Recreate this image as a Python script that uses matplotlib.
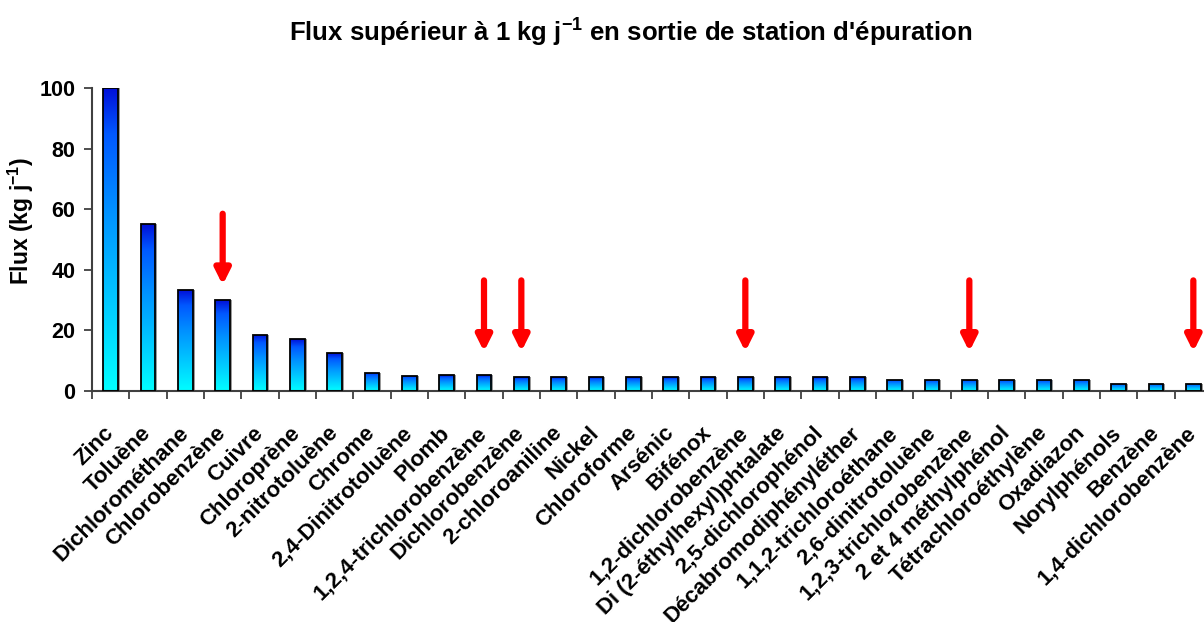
import numpy as np
import matplotlib
matplotlib.use("Agg")
import matplotlib.pyplot as plt
from matplotlib.colors import LinearSegmentedColormap

# ---------------- data ----------------
categories = [
    "Zinc", "Toluène", "Dichlorométhane", "Chlorobenzène", "Cuivre",
    "Chloroprène", "2-nitrotoluène", "Chrome", "2,4-Dinitrotoluène", "Plomb",
    "1,2,4-trichlorobenzène", "Dichlorobenzène", "2-chloroaniline", "Nickel",
    "Chloroforme", "Arsénic", "Bifénox", "1,2-dichlorobenzène",
    "Di (2-éthylhexyl)phtalate", "2,5-dichlorophénol", "Décabromodiphényléther",
    "1,1,2-trichloroéthane", "2,6-dinitrotoluène", "1,2,3-trichlorobenzène",
    "2 et 4 méthylphénol", "Tétrachloroéthylène", "Oxadiazon", "Norylphénols",
    "Benzène", "1,4-dichlorobenzène",
]
flux = [100, 55, 33.3, 30, 18.5, 17, 12.5, 6, 5.1, 5.2,
        5.2, 4.5, 4.5, 4.5, 4.5, 4.5, 4.5, 4.5, 4.5, 4.5,
        4.5, 3.7, 3.7, 3.7, 3.7, 3.7, 3.7, 2.4, 2.4, 2.4]
yticks = [0, 20, 40, 60, 80, 100]

# red arrows (category index, tip value, tail value)
arrow_idx = [3, 10, 11, 17, 23, 29]
arrow_tip = [35, 13, 13, 13, 13, 13]
arrow_tail = [58.5, 36.5, 36.5, 36.5, 36.5, 36.5]

title = "Flux supérieur à 1 kg j$^{\\mathbf{-1}}$ en sortie de station d'épuration"
ylabel = "Flux (kg j$^{\\mathbf{-1}}$)"

# ---------------- style ----------------
plt.rcParams['font.family'] = ['Liberation Sans', 'DejaVu Sans']
plt.rcParams['mathtext.fontset'] = 'custom'
plt.rcParams['mathtext.rm'] = 'Liberation Sans'
plt.rcParams['mathtext.bf'] = 'Liberation Sans:bold'

W, H = 1204, 622
fig = plt.figure(figsize=(W / 100, H / 100), dpi=100)
left, right, top, bottom = 92, 1212, 88, 391
ax = fig.add_axes([left / W, (H - bottom) / H, (right - left) / W, (bottom - top) / H])

n = len(categories)
x = np.arange(n)
bw = 0.4

cmap = LinearSegmentedColormap.from_list(
    "grad", [(0.0, "#00FFFF"), (0.3, "#00C8FF"), (0.6, "#0090FF"),
             (0.85, "#0058FF"), (1.0, "#0010D8")])
grad = np.linspace(0, 1, 256).reshape(-1, 1)

# shadows
ax.bar(x + 0.05, flux, width=bw, color="#9a9a9a", linewidth=0, zorder=1)
bars = ax.bar(x, flux, width=bw, color="none", edgecolor="black",
              linewidth=1.3, zorder=3)
for b in bars:
    bx, by = b.get_x(), b.get_y()
    im = ax.imshow(grad, cmap=cmap, aspect="auto", origin="lower",
                   extent=[bx, bx + b.get_width(), by, by + b.get_height()],
                   zorder=2, interpolation="bilinear")
    im.set_clip_path(b)

# arrows
for i, tip, tail in zip(arrow_idx, arrow_tip, arrow_tail):
    ax.annotate("", xy=(x[i], tip), xytext=(x[i], tail),
                arrowprops=dict(arrowstyle="-|>,head_length=0.9,head_width=0.45",
                                color="#FF0000", lw=4.5, shrinkA=0, shrinkB=0),
                zorder=5, annotation_clip=False)

ax.set_xlim(-0.5, n - 0.5)
ax.set_ylim(0, 100)
ax.set_yticks(yticks)
ax.set_yticklabels([str(v) for v in yticks], fontsize=15.5, fontweight="bold")
ax.set_xticks(np.arange(n + 1) - 0.5)
ax.set_xticklabels([])
ax.set_xticks(x, minor=True)
ax.set_xticklabels(categories, minor=True, rotation=45, ha="right", va="center",
                   rotation_mode="anchor", fontsize=16, fontweight="bold")
ax.tick_params(axis="x", which="minor", length=0, pad=28)
ax.tick_params(axis="x", which="major", length=6, width=1.3, color="#404040",
               direction="out")
ax.tick_params(axis="y", length=6, width=1.3, color="#404040", direction="out", pad=6)

for s in ["top", "right"]:
    ax.spines[s].set_visible(False)
for s in ["left", "bottom"]:
    ax.spines[s].set_color("#404040")
    ax.spines[s].set_linewidth(1.5)

ax.set_ylabel(ylabel, fontsize=16.5, fontweight="bold")
ax.yaxis.set_label_coords(-56 / (right - left), 0.56)

fig.text(631 / W, 1 - 32 / H, title, ha="center", va="center",
         fontsize=18.5, fontweight="bold")

fig.savefig("out.png", dpi=100)
